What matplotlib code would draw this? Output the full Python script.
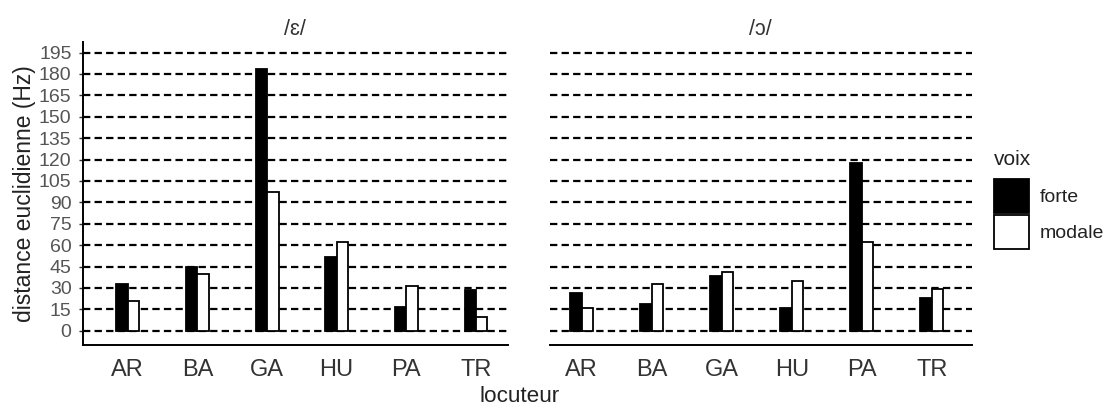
import matplotlib
matplotlib.use('Agg')
import matplotlib.pyplot as plt
from matplotlib.patches import Patch

plt.rcParams['font.family'] = ['Liberation Sans', 'DejaVu Sans']

speakers = ['AR', 'BA', 'GA', 'HU', 'PA', 'TR']
panel_titles = ['/ɛ/', '/ɔ/']
voix_labels = ['forte', 'modale']
voix_colors = ['black', 'white']

eps_forte = [32.7, 44.9, 183.2, 51.4, 16.4, 28.5]
eps_modale = [20.6, 39.5, 97.0, 62.4, 31.3, 9.4]
oo_forte = [26.2, 18.5, 38.3, 16.1, 117.3, 23.1]
oo_modale = [16.1, 32.7, 41.4, 34.8, 62.4, 29.0]

yticks = list(range(0, 196, 15))

W, H = 1110, 405
fig = plt.figure(figsize=(W / 100, H / 100), dpi=100)

def px_axes(x0, x1, y0, y1):
    return fig.add_axes([x0 / W, 1 - y1 / H, (x1 - x0) / W, (y1 - y0) / H])

axL = px_axes(82.7, 507.7, 42, 345)
axR = px_axes(550, 971.7, 42, 345)

data = [(eps_forte, eps_modale), (oo_forte, oo_modale)]
xlims = [(0.354, 6.455), (0.547, 6.571)]
bw = 0.165
pos = list(range(1, len(speakers) + 1))

for i, (ax, (f, m)) in enumerate(zip([axL, axR], data)):
    ax.set_axisbelow(True)
    ax.bar([p - bw / 2 for p in pos], f, width=bw, color=voix_colors[0],
           edgecolor='black', linewidth=1.3, zorder=3)
    ax.bar([p + bw / 2 for p in pos], m, width=bw, color=voix_colors[1],
           edgecolor='black', linewidth=1.3, zorder=3)
    ax.set_xlim(*xlims[i])
    ax.set_ylim(-10, 202.4)
    ax.set_yticks(yticks)
    ax.yaxis.grid(True, color='black', linewidth=1.6, linestyle=(0, (3.3, 1.9)))
    ax.xaxis.grid(False)
    ax.set_xticks(pos)
    ax.set_xticklabels(speakers, fontsize=17, color='#333333')
    ax.tick_params(axis='x', length=0, pad=10)
    for s in ['top', 'right']:
        ax.spines[s].set_visible(False)
    ax.spines['bottom'].set_linewidth(1.4)
    ax.set_title(panel_titles[i], fontsize=15.5, color='#333333', pad=5)

axL.spines['left'].set_linewidth(1.4)
axL.tick_params(axis='y', length=3, width=1.0, color='#333333', pad=5,
                labelsize=14, labelcolor='#555555')
axL.set_ylabel('distance euclidienne (Hz)', fontsize=16.5, color='#222222', labelpad=2)

axR.spines['left'].set_visible(False)
axR.tick_params(axis='y', length=0, labelleft=False)

fig.text(520 / W, 1 - 396 / H, 'locuteur', ha='center', va='center',
         fontsize=16.2, color='#222222')

handles = [Patch(facecolor=c, edgecolor='black', linewidth=1.3) for c in voix_colors]
leg = fig.legend(handles, voix_labels, loc='upper left',
                 bbox_to_anchor=(994 / W, 1 - 150 / H),
                 frameon=False, fontsize=14, title='voix', title_fontsize=15,
                 handlelength=1.8, handleheight=2.3, labelspacing=0.12,
                 handletextpad=0.55, borderpad=0, borderaxespad=0)
leg._legend_box.align = 'left'
leg._legend_box.sep = 7
leg.get_title().set_color('#222222')
for t in leg.get_texts():
    t.set_color('#222222')

fig.savefig('out.png', dpi=100)
